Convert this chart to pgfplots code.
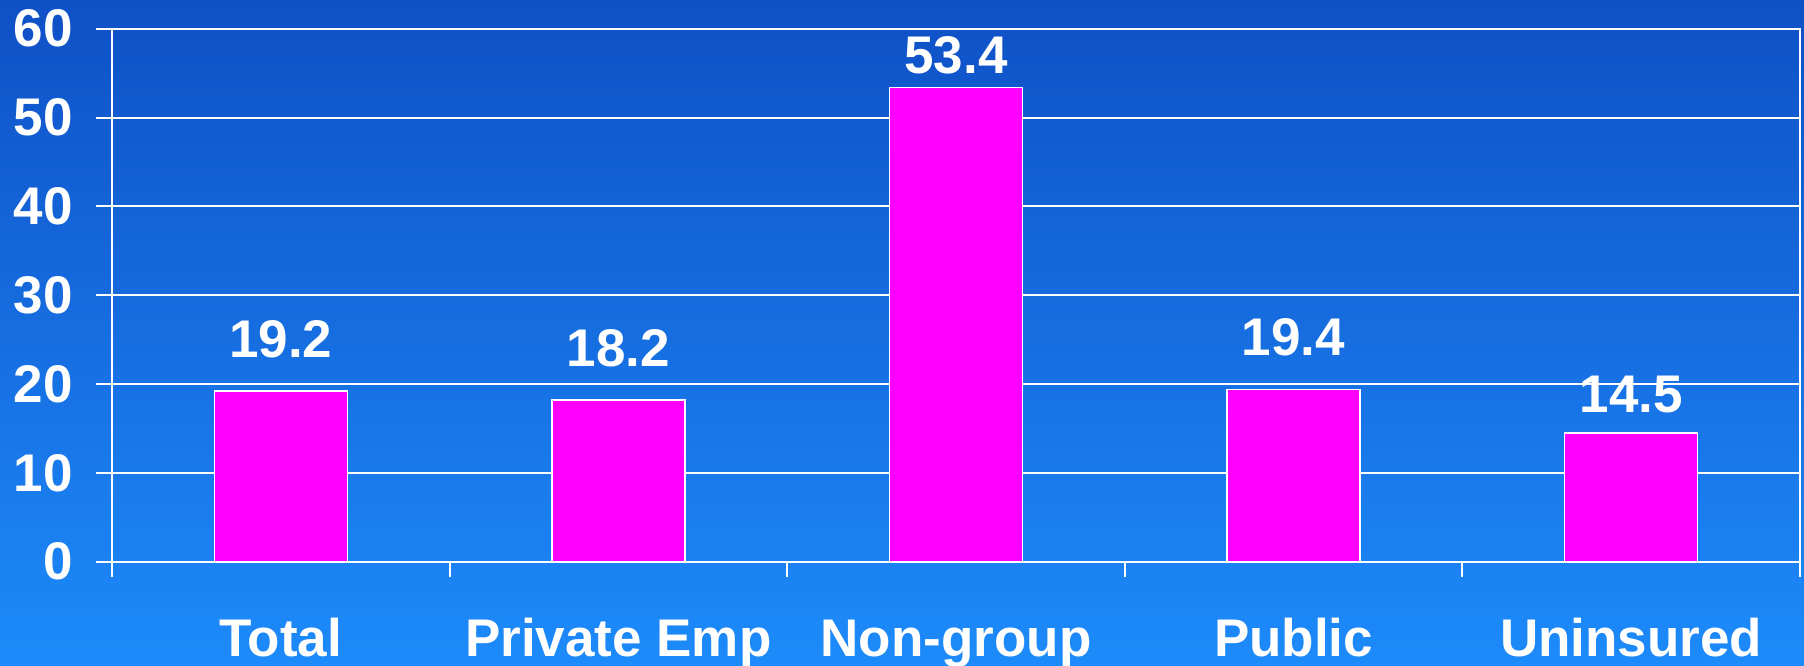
\documentclass[border=0pt]{standalone}
\usepackage{pgfplots}
\pgfplotsset{compat=1.18}
\usepackage{fontspec}
\setmainfont{Liberation Sans}
\definecolor{bgtop}{RGB}{15,80,198}
\definecolor{bgbot}{RGB}{29,139,251}
\definecolor{barmag}{RGB}{255,0,255}
\pgfplotstableread{
x y off
0.5 19.2 33.3
1.5 18.2 33.3
2.5 53.4 14
3.5 19.4 34
4.5 14.5 20
}\datatab
\begin{document}
\begin{tikzpicture}
\useasboundingbox (-112pt,-104.3pt) rectangle (1692pt,561.7pt);
\shade[top color=bgtop, bottom color=bgbot] (-112pt,-104.3pt) rectangle (1692pt,561.7pt);
\begin{axis}[
  at={(0pt,0pt)}, anchor=south west,
  scale only axis, width=1688pt, height=533pt,
  xmin=0, xmax=5, ymin=0, ymax=60,
  xtick={0,1,2,3,4,5},
  xticklabels={Total,Private Emp,Non-group,Public,Uninsured},
  x tick label as interval,
  ytick={0,10,...,60},
  ymajorgrids,
  grid style={white, line width=2pt},
  axis line style={white, line width=2pt},
  tick style={white, line width=2pt},
  tick align=outside, major tick length=15.5pt,
  xtick pos=bottom, ytick pos=left,
  /pgf/number format/assume math mode=true,
  ticklabel style={font=\fontsize{53}{60}\selectfont\bfseries, text=white, inner sep=0pt},
  xticklabel style={anchor=base, yshift=-79.5pt},
  yticklabel style={anchor=east, xshift=-23.5pt},
]
\addplot[ybar, bar width=133pt, fill=barmag, draw=white, line width=1.5pt,
  visualization depends on={\thisrow{off} \as \myoff},
  nodes near coords,
  /pgf/number format/.cd, fixed, precision=1, fixed zerofill, /pgfplots/.cd,
  nodes near coords style={anchor=base, yshift=\myoff pt, font=\fontsize{53}{60}\selectfont\bfseries, text=white, inner sep=0pt, /pgf/number format/assume math mode=true},
] table[x=x, y=y] {\datatab};
\end{axis}
\end{tikzpicture}
\end{document}
